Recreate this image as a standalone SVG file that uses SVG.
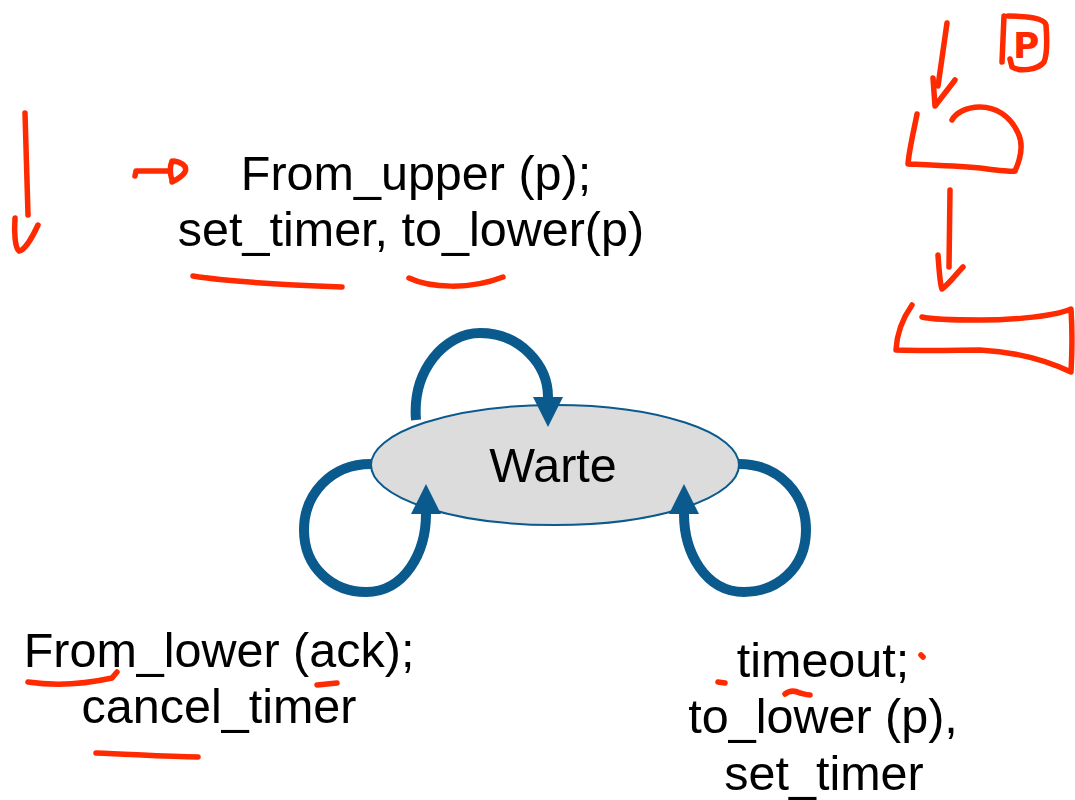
<svg xmlns="http://www.w3.org/2000/svg" width="1075" height="800" viewBox="0 0 1075 800">
  <style>
    .lbl { font-family: "Liberation Sans", Arial, sans-serif; font-size: 48.5px; fill: #000; text-anchor: middle; }
    .edge { fill: none; stroke: #0a5a8e; stroke-width: 10; }
    .ink { fill: none; stroke: #ff2a00; stroke-width: 5.5; stroke-linecap: round; stroke-linejoin: round; }
  </style>
  <defs>
    <marker id="head" viewBox="0 0 10 10" refX="0" refY="5" markerWidth="3" markerHeight="3" markerUnits="strokeWidth" orient="auto">
      <path d="M0,0 L10,5 L0,10 z" fill="#0a5a8e"/>
    </marker>
  </defs>
  <rect width="1075" height="800" fill="#ffffff"/>

  <!-- state -->
  <g id="warte">
    <ellipse cx="555" cy="465" rx="184" ry="60" fill="#dcdcdc" stroke="#0a5a8e" stroke-width="2"/>
    <text class="lbl" x="553" y="482">Warte</text>
  </g>

  <!-- self-loop transitions -->
  <g id="connectors">
    <path class="edge" marker-end="url(#head)" d="M416,420 C412,370 445,333 480,333 C520,333 548,365 548,397"/>
    <path class="edge" marker-end="url(#head)" d="M371,464 C330,464 304,495 304,530 C304,568 333,592 366,592 C405,592 426,552 426,514"/>
    <path class="edge" marker-end="url(#head)" d="M739,464 C780,464 806,495 806,530 C806,568 777,592 744,592 C705,592 684,552 684,514"/>
  </g>

  <!-- transition labels -->
  <g id="label-send">
    <text class="lbl" x="416" y="190">From_upper (p);</text>
    <text class="lbl" x="411" y="246">set_timer, to_lower(p)</text>
  </g>
  <g id="label-ack">
    <text class="lbl" x="219" y="667">From_lower (ack);</text>
    <text class="lbl" x="219" y="723">cancel_timer</text>
  </g>
  <g id="label-timeout">
    <text class="lbl" x="823" y="677">timeout;</text>
    <text class="lbl" x="823" y="733">to_lower (p),</text>
    <text class="lbl" x="824" y="790">set_timer</text>
  </g>

  <!-- handwritten notes -->
  <g id="notes">
    <path class="ink" d="M25,113 L28,215"/>
    <path class="ink" d="M15,218 C14,232 15,248 19,251 C25,250 33,236 38,225"/>
    <path class="ink" d="M135,176 L136,171 L170,171"/>
    <path class="ink" d="M172,180 C170,174 170,166 172,161 C180,161 188,166 185,172 C182,177 176,180 172,182"/>
    <path class="ink" d="M193,276 C230,282 290,285 342,287"/>
    <path class="ink" d="M409,278 C430,288 470,290 503,277"/>
    <path class="ink" d="M28,682 C55,686 85,684 112,678 L117,672"/>
    <path class="ink" d="M317,685 L337,683"/>
    <path class="ink" d="M96,753 C130,754 165,757 198,757"/>
    <path class="ink" d="M718,682 L725,683"/>
    <path class="ink" d="M921,655 L923,657"/>
    <path class="ink" d="M785,694 C790,690 796,691 800,693 C804,694 807,695 810,695"/>

    <path class="ink" d="M947,23 L938,86"/>
    <path class="ink" d="M933,78 L935,106 L955,80"/>
    <path class="ink" d="M1004,16 L1002,62"/>
    <path class="ink" d="M1008,16 C1025,16 1045,18 1046,25 C1047,38 1047,55 1044,62 C1038,70 1020,72 1012,67 L1010,59"/>
    <text x="1013" y="58" font-family="'DejaVu Sans', sans-serif" font-size="36" font-weight="bold" fill="#ff2a00">P</text>
    <path class="ink" d="M917,114 C914,130 909,150 908,164 C930,165 955,166 980,168 C995,170 1010,172 1015,171 C1020,160 1024,145 1018,133 C1010,115 995,107 980,107 C965,107 955,114 952,120"/>
    <path class="ink" d="M950,190 L949,267"/>
    <path class="ink" d="M938,255 C939,270 940,285 942,289 C948,285 958,272 963,267"/>
    <path class="ink" d="M912,305 C905,315 897,330 896,350 C930,351 960,350 980,350 C1020,352 1050,362 1071,372 C1072,355 1072,325 1071,309 C1050,318 1000,320 980,320 C950,320 930,319 922,317"/>
  </g>
</svg>
